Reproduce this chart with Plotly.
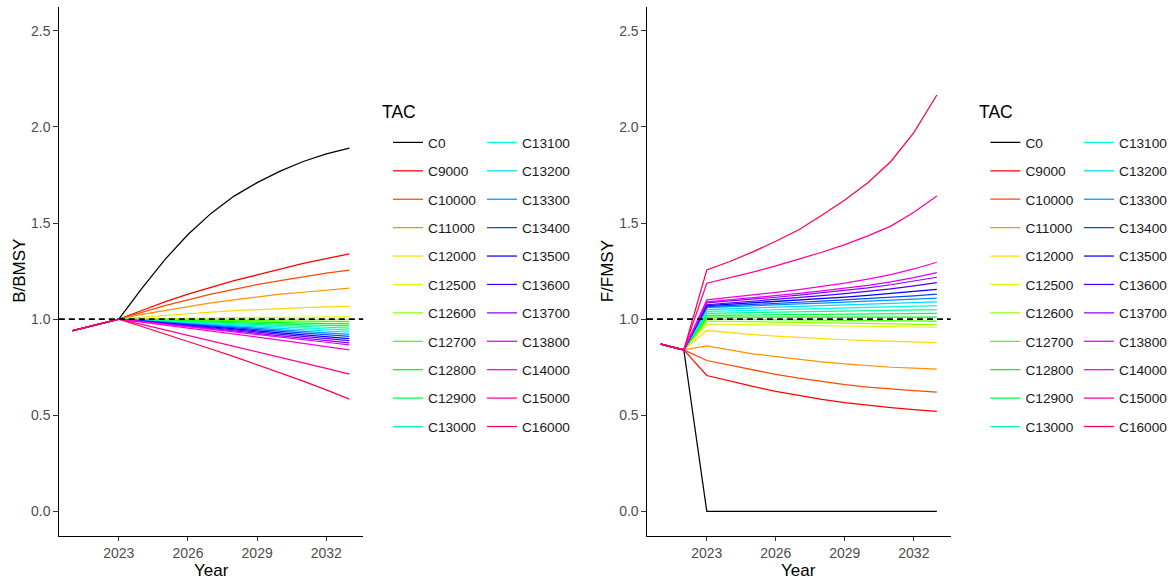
import plotly.graph_objects as go

# ---------------------------------------------------------------- data
years = list(range(2021, 2034))

tac_labels = ["C0", "C9000", "C10000", "C11000", "C12000", "C12500", "C12600",
              "C12700", "C12800", "C12900", "C13000", "C13100", "C13200", "C13300",
              "C13400", "C13500", "C13600", "C13700", "C13800", "C14000", "C15000",
              "C16000"]

line_colors = ["#000000", "#FF0000", "#FF4900", "#FF9200", "#FFDB00", "#DBFF00",
               "#92FF00", "#49FF00", "#00FF00", "#00FF49", "#00FF92", "#00FFDB",
               "#00DBFF", "#0092FF", "#0049FF", "#0000FF", "#4900FF", "#9200FF",
               "#DB00FF", "#FF00DB", "#FF0092", "#FF0049"]

ref_level = 1.0

# B/BMSY by TAC scenario, 2021-2033
B_C0 =     [0.94, 0.97, 1.00, 1.160, 1.310, 1.440, 1.550, 1.640, 1.710, 1.770, 1.820, 1.860, 1.890]
B_C9000 =  [0.94, 0.97, 1.00, 1.045, 1.090, 1.130, 1.165, 1.200, 1.230, 1.260, 1.290, 1.315, 1.340]
B_C10000 = [0.94, 0.97, 1.00, 1.035, 1.070, 1.100, 1.130, 1.155, 1.180, 1.200, 1.220, 1.240, 1.255]
B_C11000 = [0.94, 0.97, 1.00, 1.025, 1.045, 1.065, 1.085, 1.100, 1.115, 1.130, 1.140, 1.152, 1.161]
B_C12000 = [0.94, 0.97, 1.00, 1.010, 1.020, 1.030, 1.037, 1.044, 1.050, 1.055, 1.060, 1.064, 1.067]
B_C12500 = [0.94, 0.97, 1.00, 1.002, 1.004, 1.006, 1.007, 1.008, 1.009, 1.010, 1.011, 1.012, 1.012]
B_C12600 = [0.94, 0.97, 1.00, 1.000, 1.000, 0.999, 0.999, 0.999, 0.999, 0.998, 0.998, 0.998, 0.998]
B_C12700 = [0.94, 0.97, 1.00, 0.998, 0.997, 0.995, 0.994, 0.993, 0.991, 0.990, 0.989, 0.988, 0.987]
B_C12800 = [0.94, 0.97, 1.00, 0.997, 0.994, 0.992, 0.989, 0.987, 0.985, 0.982, 0.980, 0.978, 0.976]
B_C12900 = [0.94, 0.97, 1.00, 0.996, 0.992, 0.988, 0.985, 0.981, 0.978, 0.974, 0.971, 0.968, 0.965]
B_C13000 = [0.94, 0.97, 1.00, 0.995, 0.990, 0.985, 0.980, 0.975, 0.971, 0.966, 0.962, 0.958, 0.954]
B_C13100 = [0.94, 0.97, 1.00, 0.994, 0.988, 0.982, 0.976, 0.970, 0.964, 0.958, 0.953, 0.948, 0.943]
B_C13200 = [0.94, 0.97, 1.00, 0.993, 0.986, 0.979, 0.972, 0.965, 0.958, 0.951, 0.944, 0.938, 0.932]
B_C13300 = [0.94, 0.97, 1.00, 0.992, 0.984, 0.976, 0.968, 0.960, 0.952, 0.944, 0.936, 0.928, 0.921]
B_C13400 = [0.94, 0.97, 1.00, 0.991, 0.982, 0.973, 0.964, 0.955, 0.946, 0.937, 0.928, 0.919, 0.910]
B_C13500 = [0.94, 0.97, 1.00, 0.990, 0.980, 0.970, 0.960, 0.950, 0.940, 0.930, 0.919, 0.909, 0.899]
B_C13600 = [0.94, 0.97, 1.00, 0.989, 0.978, 0.967, 0.956, 0.945, 0.934, 0.922, 0.911, 0.900, 0.888]
B_C13700 = [0.94, 0.97, 1.00, 0.988, 0.976, 0.964, 0.952, 0.940, 0.928, 0.915, 0.903, 0.890, 0.877]
B_C13800 = [0.94, 0.97, 1.00, 0.987, 0.974, 0.961, 0.948, 0.935, 0.922, 0.908, 0.894, 0.880, 0.866]
B_C14000 = [0.94, 0.97, 1.00, 0.985, 0.970, 0.955, 0.939, 0.923, 0.907, 0.891, 0.874, 0.857, 0.840]
B_C15000 = [0.94, 0.97, 1.00, 0.973, 0.945, 0.917, 0.889, 0.861, 0.832, 0.803, 0.773, 0.744, 0.714]
B_C16000 = [0.94, 0.97, 1.00, 0.962, 0.924, 0.885, 0.845, 0.805, 0.764, 0.722, 0.678, 0.632, 0.584]

# F/FMSY by TAC scenario, 2021-2033
F_C0 =     [0.87, 0.84, 0.000, 0.000, 0.000, 0.000, 0.000, 0.000, 0.000, 0.000, 0.000, 0.000, 0.000]
F_C9000 =  [0.87, 0.84, 0.707, 0.678, 0.650, 0.625, 0.603, 0.583, 0.566, 0.552, 0.540, 0.529, 0.520]
F_C10000 = [0.87, 0.84, 0.785, 0.760, 0.735, 0.713, 0.693, 0.675, 0.660, 0.647, 0.636, 0.628, 0.621]
F_C11000 = [0.87, 0.84, 0.861, 0.840, 0.820, 0.805, 0.790, 0.778, 0.767, 0.758, 0.750, 0.745, 0.740]
F_C12000 = [0.87, 0.84, 0.941, 0.930, 0.920, 0.912, 0.905, 0.898, 0.893, 0.888, 0.884, 0.881, 0.878]
F_C12500 = [0.87, 0.84, 0.975, 0.973, 0.971, 0.969, 0.967, 0.965, 0.963, 0.962, 0.960, 0.959, 0.958]
F_C12600 = [0.87, 0.84, 0.990, 0.988, 0.986, 0.984, 0.982, 0.980, 0.978, 0.977, 0.975, 0.973, 0.972]
F_C12700 = [0.87, 0.84, 1.000, 0.999, 0.998, 0.997, 0.996, 0.995, 0.994, 0.993, 0.992, 0.991, 0.990]
F_C12800 = [0.87, 0.84, 1.010, 1.010, 1.010, 1.010, 1.010, 1.010, 1.010, 1.010, 1.010, 1.010, 1.010]
F_C12900 = [0.87, 0.84, 1.020, 1.021, 1.022, 1.023, 1.024, 1.025, 1.026, 1.027, 1.028, 1.029, 1.030]
F_C13000 = [0.87, 0.84, 1.030, 1.032, 1.034, 1.036, 1.038, 1.040, 1.042, 1.044, 1.046, 1.048, 1.050]
F_C13100 = [0.87, 0.84, 1.040, 1.043, 1.046, 1.049, 1.052, 1.055, 1.058, 1.061, 1.064, 1.067, 1.070]
F_C13200 = [0.87, 0.84, 1.050, 1.054, 1.058, 1.062, 1.066, 1.070, 1.074, 1.078, 1.082, 1.086, 1.090]
F_C13300 = [0.87, 0.84, 1.060, 1.064, 1.069, 1.074, 1.079, 1.084, 1.089, 1.094, 1.099, 1.104, 1.110]
F_C13400 = [0.87, 0.84, 1.065, 1.070, 1.076, 1.082, 1.088, 1.094, 1.100, 1.106, 1.113, 1.121, 1.130]
F_C13500 = [0.87, 0.84, 1.070, 1.077, 1.084, 1.091, 1.099, 1.107, 1.115, 1.124, 1.133, 1.144, 1.155]
F_C13600 = [0.87, 0.84, 1.075, 1.084, 1.093, 1.102, 1.112, 1.122, 1.133, 1.145, 1.158, 1.173, 1.190]
F_C13700 = [0.87, 0.84, 1.085, 1.094, 1.104, 1.114, 1.125, 1.137, 1.149, 1.163, 1.179, 1.197, 1.218]
F_C13800 = [0.87, 0.84, 1.090, 1.100, 1.111, 1.122, 1.134, 1.147, 1.161, 1.176, 1.194, 1.216, 1.242]
F_C14000 = [0.87, 0.84, 1.100, 1.112, 1.125, 1.139, 1.154, 1.170, 1.188, 1.208, 1.232, 1.261, 1.296]
F_C15000 = [0.87, 0.84, 1.187, 1.215, 1.245, 1.277, 1.311, 1.348, 1.388, 1.433, 1.484, 1.556, 1.641]
F_C16000 = [0.87, 0.84, 1.256, 1.300, 1.350, 1.405, 1.465, 1.540, 1.620, 1.710, 1.820, 1.970, 2.166]

b_series = [B_C0, B_C9000, B_C10000, B_C11000, B_C12000, B_C12500, B_C12600, B_C12700,
            B_C12800, B_C12900, B_C13000, B_C13100, B_C13200, B_C13300, B_C13400,
            B_C13500, B_C13600, B_C13700, B_C13800, B_C14000, B_C15000, B_C16000]
f_series = [F_C0, F_C9000, F_C10000, F_C11000, F_C12000, F_C12500, F_C12600, F_C12700,
            F_C12800, F_C12900, F_C13000, F_C13100, F_C13200, F_C13300, F_C13400,
            F_C13500, F_C13600, F_C13700, F_C13800, F_C14000, F_C15000, F_C16000]

x_ticks = [2023, 2026, 2029, 2032]
y_ticks = [0.0, 0.5, 1.0, 1.5, 2.0, 2.5]

# ---------------------------------------------------------------- layout helpers
W, H = 1173, 581
FONT = "Liberation Sans, Arial, sans-serif"


def fx(px):
    return px / W


def fy(px):
    return 1 - px / H


fig = go.Figure()

n_first_col = 11
for i, (lab, col) in enumerate(zip(tac_labels, line_colors)):
    first = i < n_first_col
    fig.add_trace(go.Scatter(
        x=years, y=b_series[i], mode="lines", name=lab,
        line=dict(color=col, width=1.25),
        xaxis="x", yaxis="y",
        legend="legend" if first else "legend2",
        legendgroup="B_" + lab,
    ))
    fig.add_trace(go.Scatter(
        x=years, y=f_series[i], mode="lines", name=lab,
        line=dict(color=col, width=1.25),
        xaxis="x2", yaxis="y2",
        legend="legend3" if first else "legend4",
        legendgroup="F_" + lab,
    ))

axis_common = dict(
    showline=True, linecolor="black", linewidth=1.2,
    ticks="outside", ticklen=4.5, tickwidth=1, tickcolor="#333333",
    tickfont=dict(family=FONT, size=14, color="#4D4D4D"),
    showgrid=False, zeroline=False, automargin=False, fixedrange=True,
)

y_dom = [fy(535.5), fy(6.7)]
x_range = [2020.4, 2033.6]
y_range = [-0.125, 2.625]

fig.update_layout(
    xaxis=dict(domain=[fx(59.3), fx(366)], range=x_range, tickvals=x_ticks,
               anchor="y", **axis_common),
    yaxis=dict(domain=y_dom, range=y_range, tickvals=y_ticks, tickformat=".1f",
               anchor="x", **axis_common),
    xaxis2=dict(domain=[fx(652), fx(958)], range=x_range, tickvals=x_ticks,
                anchor="y2", **axis_common),
    yaxis2=dict(domain=y_dom, range=y_range, tickvals=y_ticks, tickformat=".1f",
                anchor="x2", **axis_common),
)

# dashed reference line at 1 on each panel
for xr, yr in (("x domain", "y"), ("x2 domain", "y2")):
    fig.add_shape(type="line", xref=xr, yref=yr, x0=0, x1=1,
                  y0=ref_level, y1=ref_level, layer="above",
                  line=dict(color="black", width=1.6, dash="6px,4px"))

legend_common = dict(
    xanchor="left", yanchor="top", bgcolor="rgba(0,0,0,0)", borderwidth=0,
    font=dict(family=FONT, size=13.7, color="#1A1A1A"),
    tracegroupgap=7.6, itemclick=False, itemdoubleclick=False,
)
leg_top = fy(127)
panel_shift = 602
col1_x, col2_x = 391, 485.7
fig.update_layout(
    legend=dict(x=fx(col1_x), y=leg_top, **legend_common),
    legend2=dict(x=fx(col2_x), y=leg_top, **legend_common),
    legend3=dict(x=fx(col1_x + panel_shift), y=leg_top, **legend_common),
    legend4=dict(x=fx(col2_x + panel_shift), y=leg_top, **legend_common),
)

title_font = dict(family=FONT, size=17, color="black")
annots = [
    dict(text="B/BMSY", x=fx(19), y=fy(271), textangle=-90),
    dict(text="F/FMSY", x=fx(612), y=fy(271), textangle=-90),
    dict(text="Year", x=fx(212.7), y=fy(570)),
    dict(text="Year", x=fx(805), y=fy(570)),
]
for a in annots:
    fig.add_annotation(xref="paper", yref="paper", showarrow=False,
                       xanchor="center", yanchor="middle", font=title_font, **a)
for lx in (383, 383 + panel_shift):
    fig.add_annotation(text="TAC", xref="paper", yref="paper", showarrow=False,
                       x=fx(lx), y=fy(112), xanchor="left", yanchor="middle",
                       font=dict(family=FONT, size=17.5, color="black"))

fig.update_layout(
    width=W, height=H,
    margin=dict(l=0, r=0, t=0, b=0),
    paper_bgcolor="white", plot_bgcolor="white",
    showlegend=True,
    font=dict(family=FONT),
)

fig.write_html("out.html")
